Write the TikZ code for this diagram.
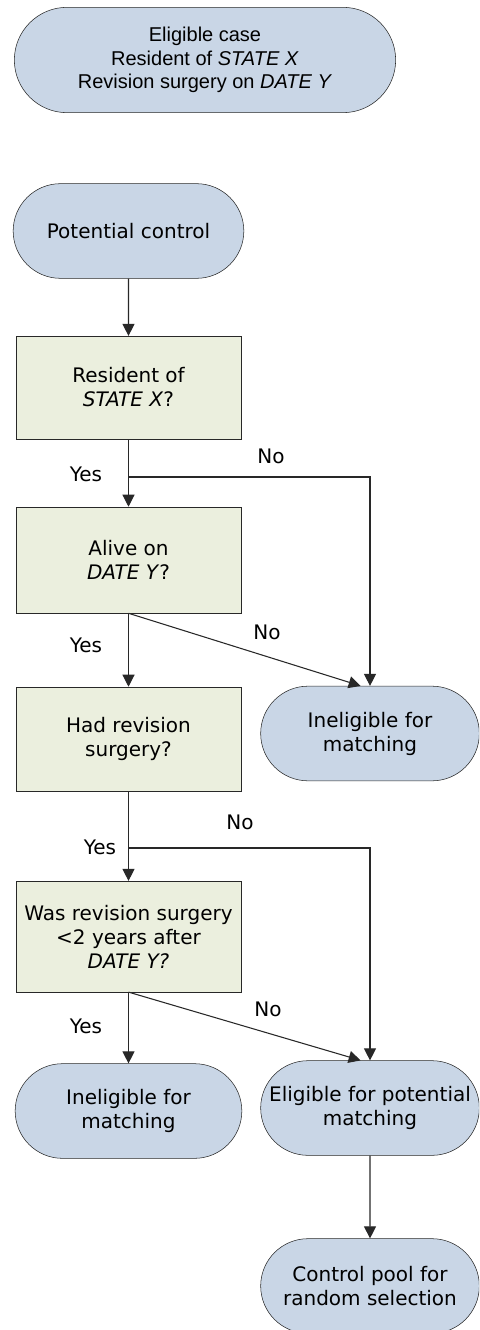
\documentclass[tikz,border=0pt]{standalone}
\usepackage{fontspec}
\setmainfont{DejaVu Sans}
\newfontfamily\casefont{Liberation Sans}
\usetikzlibrary{shapes.misc,arrows.meta}
\definecolor{termblue}{RGB}{201,214,230}
\definecolor{testgreen}{RGB}{235,239,222}
\definecolor{linegray}{RGB}{40,40,40}
\begin{document}
\begin{tikzpicture}[x=0.75pt,y=-0.75pt,
  term/.style={draw=linegray,fill=termblue,rounded rectangle,align=center,
    minimum width=172pt,minimum height=71pt,inner sep=1pt,
    font=\fontsize{15}{18}\selectfont},
  test/.style={draw=linegray,fill=testgreen,rectangle,align=center,
    minimum width=169pt,inner sep=1pt,font=\fontsize{15}{18}\selectfont},
  lab/.style={font=\fontsize{15}{18}\selectfont,inner sep=0pt},
  line/.style={draw=linegray,line width=0.8pt},
  arrow/.style={line,-{Triangle[length=9pt,width=9pt]}}]
\useasboundingbox (0,0) rectangle (479,1330);
\clip (0,0) rectangle (479,1330);
% case and control
\node[term,minimum width=288pt,minimum height=79pt,
  font=\casefont\fontsize{15}{17.6}\selectfont] (case) at (205,60)
  {Eligible case\\Resident of \textit{STATE X}\\Revision surgery on \textit{DATE Y}};
\node[term,minimum width=175pt] (potential) at (128.5,231) {Potential control};
% tests
\node[test,minimum height=77pt] (resident) at (128.5,387.5) {Resident of\\\textit{STATE X}?};
\node[test,minimum height=79.5pt] (alive) at (128.5,560) {Alive on\\\textit{DATE Y}?};
\node[test,minimum height=78pt] (hadrev) at (128.5,739) {Had revision\\surgery?};
\node[test,minimum height=83pt] (wasrev) at (128.5,936.5) {Was revision surgery\\<2 years after\\\textit{DATE Y?}};
% outcomes
\node[term,minimum width=166pt] (inelA) at (370,733.5) {Ineligible for\\matching};
\node[term] (inelB) at (128.5,1111) {Ineligible for\\matching};
\node[term,minimum width=166pt] (eligible) at (370,1108) {Eligible for potential\\matching};
\node[term,minimum width=166pt] (pool) at (370,1286) {Control pool for\\random selection};
% junctions
\coordinate (jA) at (128.5,477);
\coordinate (jB) at (128.5,848);
% connectors
\draw[arrow] (potential) -- (resident);
\draw[line] (resident.south) -- (jA);
\draw[arrow] (jA) -- (alive.north);
\draw[arrow] (jA) -| (inelA.north);
\draw[arrow] (alive.south) -- (hadrev.north);
\draw[arrow] (alive.south) -- ([xshift=-7pt]inelA.north);
\draw[line] (hadrev.south) -- (jB);
\draw[arrow] (jB) -- (wasrev.north);
\draw[arrow] (jB) -| (eligible.north);
\draw[arrow] (wasrev.south) -- (inelB.north);
\draw[arrow] (wasrev.south) -- ([xshift=-7pt]eligible.north);
\draw[arrow] (eligible) -- (pool);
% labels
\node[lab] (yesA) at (86,474) {Yes};
\node[lab] (noA) at (271,456) {No};
\node[lab] (yesB) at (86,645) {Yes};
\node[lab] (noB) at (267,632) {No};
\node[lab] (yesC) at (100,847) {Yes};
\node[lab] (noC) at (240,822) {No};
\node[lab] (yesD) at (86,1026) {Yes};
\node[lab] (noD) at (268,1009) {No};
\end{tikzpicture}
\end{document}
